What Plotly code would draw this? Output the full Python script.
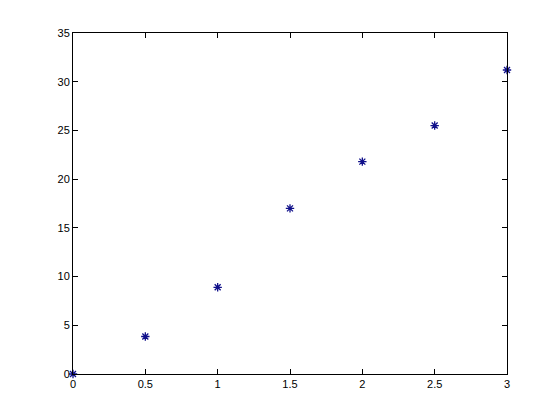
import plotly.graph_objects as go

# sample points
x_vals = [0, 0.5, 1, 1.5, 2, 2.5, 3]
y_vals = [0, 3.85, 8.9, 17.0, 21.8, 25.5, 31.2]

x_ticks = [0, 0.5, 1, 1.5, 2, 2.5, 3]
x_labels = ['0', '0.5', '1', '1.5', '2', '2.5', '3']
y_ticks = [0, 5, 10, 15, 20, 25, 30, 35]

fig = go.Figure(go.Scatter(x=x_vals, y=y_vals, mode='markers', cliponaxis=False,
                           marker=dict(symbol='asterisk-open', size=7, color='#10108a',
                                       line=dict(color='#10108a', width=1.3))))

axis_style = dict(showgrid=False, zeroline=False, showline=True, linecolor='black',
                  linewidth=1, mirror='ticks', ticks='inside', ticklen=5,
                  tickcolor='black', tickfont=dict(family='Liberation Sans', size=11, color='black'))

fig.update_layout(width=560, height=420, margin=dict(l=65, r=61, t=25, b=54),
                  paper_bgcolor='white', plot_bgcolor='white', showlegend=False,
                  xaxis=dict(range=[0, 3], tickvals=x_ticks, ticktext=x_labels, **axis_style),
                  yaxis=dict(range=[0, 35], tickvals=y_ticks, **axis_style))

fig.write_html("out.html")
